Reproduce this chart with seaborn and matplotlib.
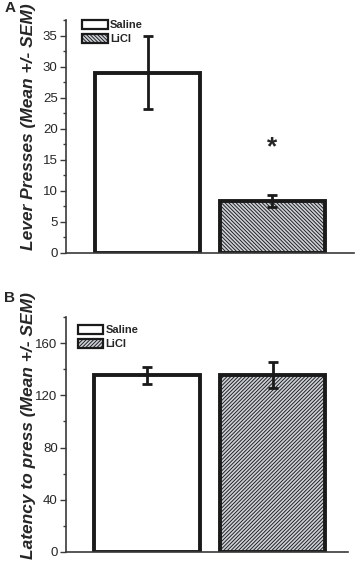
import matplotlib
matplotlib.use("Agg")
import matplotlib.pyplot as plt
import matplotlib.patches as mpatches
from matplotlib.ticker import MultipleLocator
import seaborn as sns
import pandas as pd

# data
groups = ["Saline", "LiCl"]
presses_mean = [29.0, 8.4]
presses_sem = [5.9, 1.0]
latency_mean = [135.4, 135.4]
latency_sem = [6.5, 10.0]

sns.set_style("ticks")
plt.rcParams['font.family'] = ['Liberation Sans', 'DejaVu Sans']

fill_gray = "#ccd0d6"
hatch_gray = "#878c94"
spine_col = "#3a3a3a"

plt.rcParams['hatch.color'] = hatch_gray
plt.rcParams['hatch.linewidth'] = 0.65

fig = plt.figure(figsize=(3.55, 5.68), dpi=100)
axA = fig.add_axes([0.186, 0.5546, 0.811, 0.4102])
axB = fig.add_axes([0.186, 0.0282, 0.794, 0.4137])


def draw_panel(ax, means, sems, hatch, ylabel, ymax, major, minor, xlim):
    df = pd.DataFrame({"group": groups, "value": means})
    sns.barplot(data=df, x="group", y="value", ax=ax, order=groups,
                width=0.84, errorbar=None, color="white")
    for i, bar in enumerate(ax.patches):
        bar.set_edgecolor("#1a1a1a")
        bar.set_linewidth(2.8)
        if groups[i] == "LiCl":
            bar.set_facecolor(fill_gray)
            bar.set_hatch(hatch)
    ax.errorbar(range(len(groups)), means, yerr=sems, fmt="none",
                ecolor="#1a1a1a", elinewidth=2, capsize=3.5, capthick=2)
    ax.set_xlim(*xlim)
    ax.set_ylim(0, ymax)
    ax.yaxis.set_major_locator(MultipleLocator(major))
    ax.yaxis.set_minor_locator(MultipleLocator(minor))
    ax.set_xticks([])
    ax.set_xlabel("")
    ax.set_ylabel(ylabel, fontsize=12.5, fontweight="bold", fontstyle="italic")
    # right edge of the rotated label sits ~30 px left of the spine
    ax.yaxis.set_label_coords(-30 / (ax.get_position().width * 355), 0.54)
    ax.tick_params(axis="y", which="major", length=4, width=1, labelsize=9.5,
                   color=spine_col, pad=2)
    ax.tick_params(axis="y", which="minor", length=2.5, width=1, color=spine_col)
    sns.despine(ax=ax)
    for s in ["left", "bottom"]:
        ax.spines[s].set_color(spine_col)
        ax.spines[s].set_linewidth(1.2)
    ax.spines["bottom"].set_zorder(5)

    handles = [mpatches.Patch(facecolor="white", edgecolor="#1a1a1a", linewidth=1.6),
               mpatches.Patch(facecolor=fill_gray, edgecolor="#1a1a1a",
                              linewidth=1.6, hatch=hatch)]
    return handles


hA = draw_panel(axA, presses_mean, presses_sem, "\\" * 9,
                "Lever Presses (Mean +/- SEM)", 37.5, 5, 2.5, (-0.652, 1.652))
axA.text(1, 17.0, "*", ha="center", va="center", fontsize=19, fontweight="bold")
axA.legend(hA, groups, loc="upper left", bbox_to_anchor=(0.04, 1.02),
           frameon=False, handlelength=2.3, handleheight=0.9, labelspacing=0.3,
           handletextpad=0.2, borderaxespad=0,
           prop={"size": 8, "weight": "bold"})

hB = draw_panel(axB, latency_mean, latency_sem, "/" * 9,
                "Latency to press (Mean +/- SEM)", 180, 40, 20, (-0.645, 1.60))
axB.legend(hB, groups, loc="upper left", bbox_to_anchor=(0.025, 0.985),
           frameon=False, handlelength=2.3, handleheight=0.9, labelspacing=0.3,
           handletextpad=0.2, borderaxespad=0,
           prop={"size": 8, "weight": "bold"})

fig.text(0.012, 0.998, "A", fontsize=11, fontweight="bold", va="top")
fig.text(0.012, 0.487, "B", fontsize=11, fontweight="bold", va="top")

fig.savefig("out.png", dpi=100)
